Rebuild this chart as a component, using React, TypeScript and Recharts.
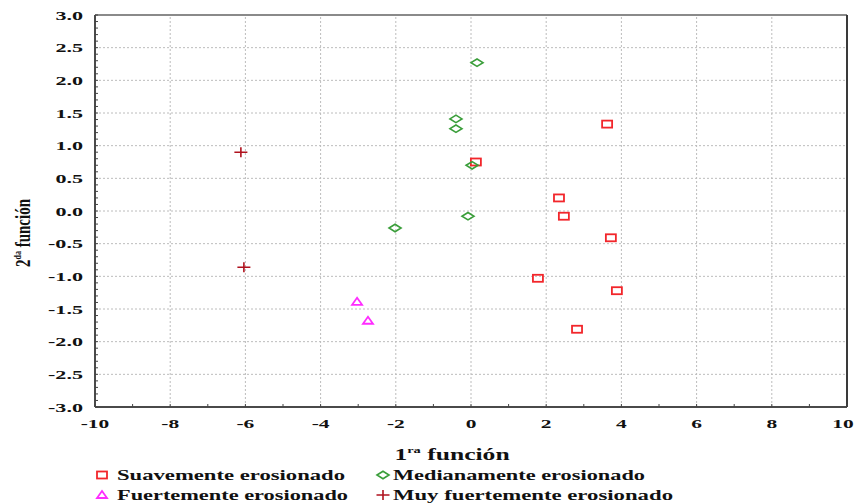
import React from 'react';
import { ScatterChart, Scatter, XAxis, YAxis, ReferenceLine, Legend } from 'recharts';

// axis ticks
const X_TICKS = [-10, -8, -6, -4, -2, 0, 2, 4, 6, 8, 10];
const X_MINOR = [-10, -9, -8, -7, -6, -5, -4, -3, -2, -1, 0, 1, 2, 3, 4, 5, 6, 7, 8, 9, 10];
const Y_TICKS = [-3.0, -2.5, -2.0, -1.5, -1.0, -0.5, 0.0, 0.5, 1.0, 1.5, 2.0, 2.5, 3.0];
const Y_MINOR = Array.from({ length: 61 }, (_, i) => (i - 30) / 10);

// series (1ra función, 2da función)
const SUAVE_X = [3.62, 0.13, 2.34, 2.47, 3.72, 1.78, 3.88, 2.82];
const SUAVE_Y = [1.33, 0.75, 0.2, -0.08, -0.41, -1.03, -1.22, -1.81];
const MEDIA_X = [0.16, -0.4, -0.4, 0.03, -0.08, -2.02];
const MEDIA_Y = [2.27, 1.41, 1.26, 0.7, -0.08, -0.26];
const FUERTE_X = [-3.03, -2.74];
const FUERTE_Y = [-1.39, -1.68];
const MUY_X = [-6.12, -6.04];
const MUY_Y = [0.9, -0.86];

const SERIES_NAMES = [
  'Suavemente erosionado',
  'Medianamente erosionado',
  'Fuertemente erosionado',
  'Muy fuertemente erosionado',
];

const RED = '#f2262b';
const GREEN = '#3a9e3a';
const MAGENTA = '#ff2cff';
const DARKRED = '#b0121e';
const FONT = '"Liberation Serif", "Times New Roman", serif';

const zip = (xs: number[], ys: number[]) => xs.map((x, i) => ({ x, y: ys[i] }));

const Square = ({ cx, cy }: any) => (
  <rect x={cx - 5} y={cy - 3.5} width={10} height={7} fill="none" stroke={RED} strokeWidth={1.8} />
);
const Diamond = ({ cx, cy }: any) => (
  <polygon
    points={`${cx - 6},${cy} ${cx},${cy - 3.7} ${cx + 6},${cy} ${cx},${cy + 3.7}`}
    fill="none" stroke={GREEN} strokeWidth={1.6}
  />
);
const Triangle = ({ cx, cy }: any) => (
  <polygon
    points={`${cx},${cy - 4} ${cx + 5},${cy + 3} ${cx - 5},${cy + 3}`}
    fill="none" stroke={MAGENTA} strokeWidth={1.8}
  />
);
const Plus = ({ cx, cy }: any) => (
  <path d={`M${cx - 6.5},${cy}H${cx + 6.5}M${cx},${cy - 5}V${cy + 5}`} stroke={DARKRED} strokeWidth={1.6} />
);

const XTick = ({ x, y, payload }: any) => {
  const v = payload.value;
  // last label sits against the right edge
  const lx = v === 10 ? x - 4 : x;
  return (
    <g>
      <line x1={x} x2={x} y1={y} y2={y - 3} stroke="#444" />
      {v % 2 === 0 && (
        <text
          transform={`translate(${lx},${y + 21}) scale(1.65,1)`}
          textAnchor="middle" fontFamily={FONT} fontWeight="bold" fontSize={13} fill="#111"
        >
          {v}
        </text>
      )}
    </g>
  );
};

const YTickLeft = ({ x, y, payload }: any) => {
  const v = payload.value;
  const major = Math.round(v * 10) % 5 === 0;
  return (
    <g>
      <line x1={x} x2={x + 3} y1={y} y2={y} stroke="#444" />
      {major && (
        <text
          transform={`translate(${x - 12},${y + 4.5}) scale(1.7,1)`}
          textAnchor="end" fontFamily={FONT} fontWeight="bold" fontSize={13} fill="#111"
        >
          {v.toFixed(1)}
        </text>
      )}
    </g>
  );
};

const YTickRight = ({ x, y }: any) => (
  <line x1={x} x2={x - 3} y1={y} y2={y} stroke="#444" />
);

const XTitle = ({ viewBox }: any) => {
  const cx = viewBox.x + viewBox.width / 2 - 19;
  return (
    <text
      transform={`translate(${cx},460) scale(1.6,1)`}
      textAnchor="middle" fontFamily={FONT} fontWeight="bold" fontSize={16} fill="#111"
    >
      1<tspan fontSize={9} dy={-7}>ra</tspan><tspan dy={7}> función</tspan>
    </text>
  );
};

const YTitle = ({ viewBox }: any) => {
  const cy = viewBox.y + viewBox.height / 2 + 22;
  return (
    <text
      transform={`translate(30,${cy}) rotate(-90) scale(1,1.35)`}
      textAnchor="middle" fontFamily={FONT} fontWeight="bold" fontSize={15} fill="#111"
    >
      2<tspan fontSize={8} dy={-7}>da</tspan><tspan dy={7}> función</tspan>
    </text>
  );
};

const LEGEND_MARKERS = [Square, Diamond, Triangle, Plus];
const LEGEND_POS = [
  { mx: 102, tx: 117, y: 22, len: 228 },
  { mx: 383, tx: 393, y: 22, len: 252 },
  { mx: 102, tx: 117, y: 42, len: 231 },
  { mx: 383, tx: 393, y: 42, len: 280 },
];

const LegendBox = () => (
  <svg width={856} height={46}>
    {SERIES_NAMES.map((name, i) => {
      const Marker = LEGEND_MARKERS[i];
      const p = LEGEND_POS[i];
      return (
        <g key={name}>
          <Marker cx={p.mx} cy={p.y - 5} />
          <text
            x={p.tx} y={p.y} textLength={p.len} lengthAdjust="spacingAndGlyphs"
            fontFamily={FONT} fontWeight="bold" fontSize={14} fill="#111"
          >
            {name}
          </text>
        </g>
      );
    })}
  </svg>
);

const grid = { stroke: '#bcbcbc', strokeDasharray: '2 2', strokeWidth: 1 };

export default function App() {
  return (
    <div style={{ position: 'absolute', left: 0, top: 0, width: 856, height: 504, background: '#fff' }}>
      <ScatterChart width={856} height={504} margin={{ top: 15, right: 8, left: 35, bottom: 67 }}>
        <XAxis
          xAxisId="x" dataKey="x" type="number" domain={[-10, 10]} ticks={X_MINOR} interval={0}
          height={30} tickSize={0} tickMargin={0} tickLine={false} tick={<XTick />}
          axisLine={{ stroke: '#4a4a4a', strokeWidth: 2 }} label={<XTitle />}
        />
        <YAxis
          yAxisId="left" dataKey="y" type="number" domain={[-3, 3]} ticks={Y_MINOR} interval={0}
          width={60} tickSize={0} tickMargin={0} tickLine={false} tick={<YTickLeft />}
          axisLine={{ stroke: '#4a4a4a', strokeWidth: 2 }} label={<YTitle />}
        />
        <YAxis
          yAxisId="right" orientation="right" type="number" domain={[-3, 3]} ticks={Y_MINOR} interval={0}
          width={1} tickSize={0} tickMargin={0} tickLine={false} tick={<YTickRight />}
          axisLine={{ stroke: '#3a3a3a', strokeWidth: 2 }}
        />
        {X_TICKS.slice(1, -1).map((v) => (
          <ReferenceLine key={`gx${v}`} x={v} xAxisId="x" yAxisId="left" {...grid} />
        ))}
        {Y_TICKS.slice(1, -1).map((v) => (
          <ReferenceLine key={`gy${v}`} y={v} xAxisId="x" yAxisId="left" {...grid} />
        ))}
        <ReferenceLine y={3} xAxisId="x" yAxisId="left" stroke="#8a8a8a" strokeWidth={2} />
        <Scatter name={SERIES_NAMES[0]} data={zip(SUAVE_X, SUAVE_Y)} xAxisId="x" yAxisId="left" shape={Square} isAnimationActive={false} />
        <Scatter name={SERIES_NAMES[1]} data={zip(MEDIA_X, MEDIA_Y)} xAxisId="x" yAxisId="left" shape={Diamond} isAnimationActive={false} />
        <Scatter name={SERIES_NAMES[2]} data={zip(FUERTE_X, FUERTE_Y)} xAxisId="x" yAxisId="left" shape={Triangle} isAnimationActive={false} />
        <Scatter name={SERIES_NAMES[3]} data={zip(MUY_X, MUY_Y)} xAxisId="x" yAxisId="left" shape={Plus} isAnimationActive={false} />
        <Legend
          layout="vertical" align="center" verticalAlign="middle"
          wrapperStyle={{ position: 'absolute', left: 0, top: 458, width: 856, height: 46 }}
          content={<LegendBox />}
        />
      </ScatterChart>
    </div>
  );
}
